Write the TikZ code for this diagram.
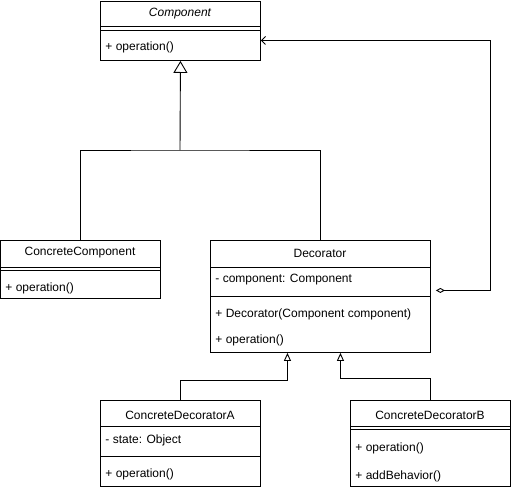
\documentclass[tikz,border=0pt]{standalone}
\usepackage{fontspec}
\setmainfont{Liberation Sans}
\usetikzlibrary{arrows.meta, positioning}

\begin{document}
\begin{tikzpicture}[x=1pt, y=-1pt, line width=0.9pt,
  classbox/.style={draw, rectangle, inner sep=0pt, anchor=north west},
  classname/.style={inner sep=0pt, font=\fontsize{12}{14}\selectfont},
  member/.style={anchor=west, inner sep=0pt, font=\fontsize{12}{14}\selectfont},
  generalize/.style={-{Triangle[open, length=12pt, width=14pt]}},
  smallgen/.style={-{Triangle[open, length=8pt, width=7pt]}},
  aggregate/.style={{Diamond[open, length=9pt, width=5pt]}-{Straight Barb[length=4pt, width=8pt]}}]
  \useasboundingbox (0,0) rectangle (511,490);

  % Component (abstract)
  \node[classbox, minimum width=160pt, minimum height=59pt] (comp) at (100,1) {};
  \node[classname, font=\fontsize{12}{14}\selectfont\itshape] (comp-name) at (180,14) {Component};
  \draw (100,26) -- (260,26) (100,30) -- (260,30);
  \node[member] (comp-op) at (105,47) {+ operation()};

  % ConcreteComponent
  \node[classbox, minimum width=160pt, minimum height=58pt] (ccomp) at (0,240) {};
  \node[classname] (ccomp-name) at (80,253) {ConcreteComponent};
  \draw (0,267) -- (160,267) (0,270) -- (160,270);
  \node[member] (ccomp-op) at (5,288) {+ operation()};

  % Decorator
  \node[classbox, minimum width=220pt, minimum height=112pt] (deco) at (210,240) {};
  \node[classname] (deco-name) at (320,253) {Decorator};
  \draw (210,267) -- (430,267) (210,296) -- (430,296);
  \node[member] (deco-attr) at (215,280) {- component: Component};
  \node[member] (deco-ctor) at (215,314) {+ Decorator(Component component)};
  \node[member] (deco-op) at (215,340) {+ operation()};

  % ConcreteDecoratorA
  \node[classbox, minimum width=160pt, minimum height=86pt] (cda) at (100,400) {};
  \node[classname] (cda-name) at (180,415) {ConcreteDecoratorA};
  \draw (100,426) -- (260,426) (100,456) -- (260,456);
  \node[member] (cda-attr) at (105,440) {- state: Object};
  \node[member] (cda-op) at (105,474) {+ operation()};

  % ConcreteDecoratorB
  \node[classbox, minimum width=160pt, minimum height=86pt] (cdb) at (350,400) {};
  \node[classname] (cdb-name) at (430,415) {ConcreteDecoratorB};
  \draw (350,426) -- (510,426) (350,429) -- (510,429);
  \node[member] (cdb-op) at (355,448) {+ operation()};
  \node[member] (cdb-add) at (355,476) {+ addBehavior()};

  % inheritance from Component
  \coordinate (join) at (180,150);
  \draw[generalize] (join) -- (comp.south);
  \draw (ccomp.north) |- (join) -| (deco.north);

  % inheritance from Decorator
  \draw[smallgen] (cda.north) -- ++(0,-20) -| ([xshift=-33pt]deco.south);
  \draw[smallgen] (cdb.north) -- ++(0,-22) -| ([xshift=20pt]deco.south);

  % aggregation back to Component
  \draw[aggregate, shorten <=5pt] ([yshift=6pt]deco.east) -- ++(60,0)
    |- ([yshift=-9.5pt]comp.east);
\end{tikzpicture}
\end{document}
